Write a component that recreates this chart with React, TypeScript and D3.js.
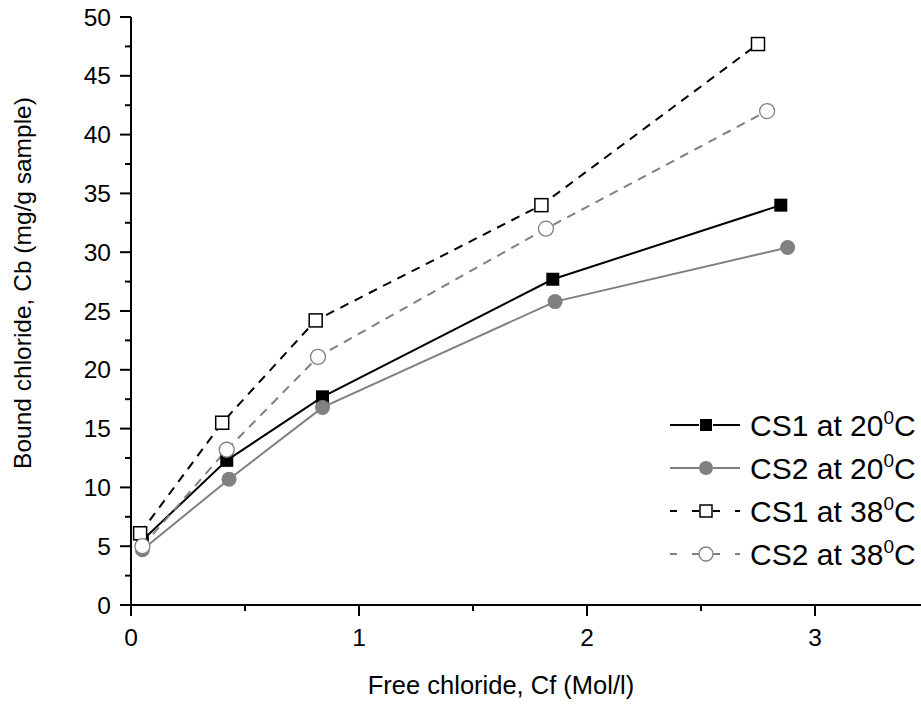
import React from "react";
import * as d3 from "d3";

const cs1_20_x = [0.05, 0.42, 0.84, 1.85, 2.85];
const cs1_20_y = [5.5, 12.3, 17.7, 27.7, 34.0];
const cs2_20_x = [0.05, 0.43, 0.84, 1.86, 2.88];
const cs2_20_y = [4.7, 10.7, 16.8, 25.8, 30.4];
const cs1_38_x = [0.04, 0.40, 0.81, 1.80, 2.75];
const cs1_38_y = [6.1, 15.5, 24.2, 34.0, 47.7];
const cs2_38_x = [0.05, 0.42, 0.82, 1.82, 2.79];
const cs2_38_y = [5.0, 13.2, 21.1, 32.0, 42.0];

const xMajor = [0, 1, 2, 3];
const xMinor = [0.5, 1.5, 2.5];
const yMajor = [0, 5, 10, 15, 20, 25, 30, 35, 40, 45, 50];
const yMinor = [2.5, 7.5, 12.5, 17.5, 22.5, 27.5, 32.5, 37.5, 42.5, 47.5];

const legendNames = ["CS1 at 20", "CS2 at 20", "CS1 at 38", "CS2 at 38"];

type Series = {
  xs: number[];
  ys: number[];
  color: string;
  dash?: string;
  marker: "sq" | "circ";
  filled: boolean;
};

const series: Series[] = [
  { xs: cs1_20_x, ys: cs1_20_y, color: "#000", marker: "sq", filled: true },
  { xs: cs2_20_x, ys: cs2_20_y, color: "#808080", marker: "circ", filled: true },
  { xs: cs1_38_x, ys: cs1_38_y, color: "#000", dash: "9 7", marker: "sq", filled: false },
  { xs: cs2_38_x, ys: cs2_38_y, color: "#808080", dash: "9 7", marker: "circ", filled: false },
];

const FONT = "'Liberation Sans', Arial, sans-serif";

function Marker({ s, cx, cy, small }: { s: Series; cx: number; cy: number; small?: boolean }) {
  if (s.marker === "sq") {
    const sz = small ? 12 : 13;
    return (
      <rect
        x={cx - sz / 2}
        y={cy - sz / 2}
        width={sz}
        height={sz}
        fill={s.filled ? s.color : "#fff"}
        stroke={s.color}
        strokeWidth={s.filled ? 0 : 1.5}
      />
    );
  }
  return (
    <circle
      cx={cx}
      cy={cy}
      r={small ? 7 : 7.5}
      fill={s.filled ? s.color : "#fff"}
      stroke={s.color}
      strokeWidth={s.filled ? 0 : 1.3}
    />
  );
}

export default function App() {
  const x = d3.scaleLinear().domain([0, 1]).range([131, 359]);
  const y = d3.scaleLinear().domain([0, 50]).range([605, 17]);
  const line = d3.line<[number, number]>().x((d) => x(d[0])).y((d) => y(d[1]));

  const legX0 = 670;
  const legX1 = 740;
  const legMid = 706;
  const legTextX = 750;
  const legY = [425, 468, 511, 554];

  return (
    <svg
      width={921}
      height={704}
      style={{ position: "absolute", left: 0, top: 0, display: "block", background: "#fff" }}
      fontFamily={FONT}
    >
      <rect x={0} y={0} width={921} height={704} fill="#fff" />
      {/* axes */}
      <line x1={131} y1={y(50)} x2={131} y2={y(0) + 1} stroke="#000" strokeWidth={2} />
      <line x1={130} y1={y(0)} x2={921} y2={y(0)} stroke="#000" strokeWidth={2} />
      {yMajor.map((v) => (
        <g key={"ym" + v}>
          <line x1={120} x2={131} y1={y(v)} y2={y(v)} stroke="#000" strokeWidth={2} />
          <text x={111} y={y(v)} dy="0.35em" textAnchor="end" fontSize={24.5}>
            {v}
          </text>
        </g>
      ))}
      {yMinor.map((v) => (
        <line key={"yn" + v} x1={125} x2={131} y1={y(v)} y2={y(v)} stroke="#000" strokeWidth={2} />
      ))}
      {xMajor.map((v) => (
        <g key={"xm" + v}>
          <line x1={x(v)} x2={x(v)} y1={y(0)} y2={y(0) + 11} stroke="#000" strokeWidth={2} />
          <text x={x(v)} y={646} textAnchor="middle" fontSize={24.5}>
            {v}
          </text>
        </g>
      ))}
      {xMinor.map((v) => (
        <line key={"xn" + v} x1={x(v)} x2={x(v)} y1={y(0)} y2={y(0) + 6} stroke="#000" strokeWidth={2} />
      ))}
      {/* titles */}
      <text x={501} y={694} textAnchor="middle" fontSize={25.5}>
        Free chloride, Cf (Mol/l)
      </text>
      <text transform={`translate(31, 283) rotate(-90)`} textAnchor="middle" fontSize={24.5}>
        Bound chloride, Cb (mg/g sample)
      </text>
      {/* series lines */}
      {series.map((s, i) => (
        <path
          key={"l" + i}
          d={line(s.xs.map((v, j) => [v, s.ys[j]] as [number, number])) || ""}
          fill="none"
          stroke={s.color}
          strokeWidth={2}
          strokeDasharray={s.dash}
        />
      ))}
      {/* markers */}
      {series.map((s, i) => (
        <g key={"m" + i}>
          {s.xs.map((v, j) => (
            <Marker key={j} s={s} cx={x(v)} cy={y(s.ys[j])} />
          ))}
        </g>
      ))}
      {/* legend */}
      {series.map((s, i) => (
        <g key={"lg" + i}>
          <line
            x1={legMid - 7}
            x2={legX0}
            y1={legY[i]}
            y2={legY[i]}
            stroke={s.color}
            strokeWidth={2}
            strokeDasharray={s.dash ? "7 15" : undefined}
          />
          <line
            x1={legMid + 7}
            x2={legX1}
            y1={legY[i]}
            y2={legY[i]}
            stroke={s.color}
            strokeWidth={2}
            strokeDasharray={s.dash ? "7 15" : undefined}
          />
          <Marker s={s} cx={legMid} cy={legY[i]} small />
          <text x={legTextX} y={legY[i]} dy="0.36em" fontSize={30}>
            {legendNames[i]}
            <tspan fontSize={19} dy={-12}>0</tspan>
            <tspan dy={12}>C</tspan>
          </text>
        </g>
      ))}
    </svg>
  );
}
